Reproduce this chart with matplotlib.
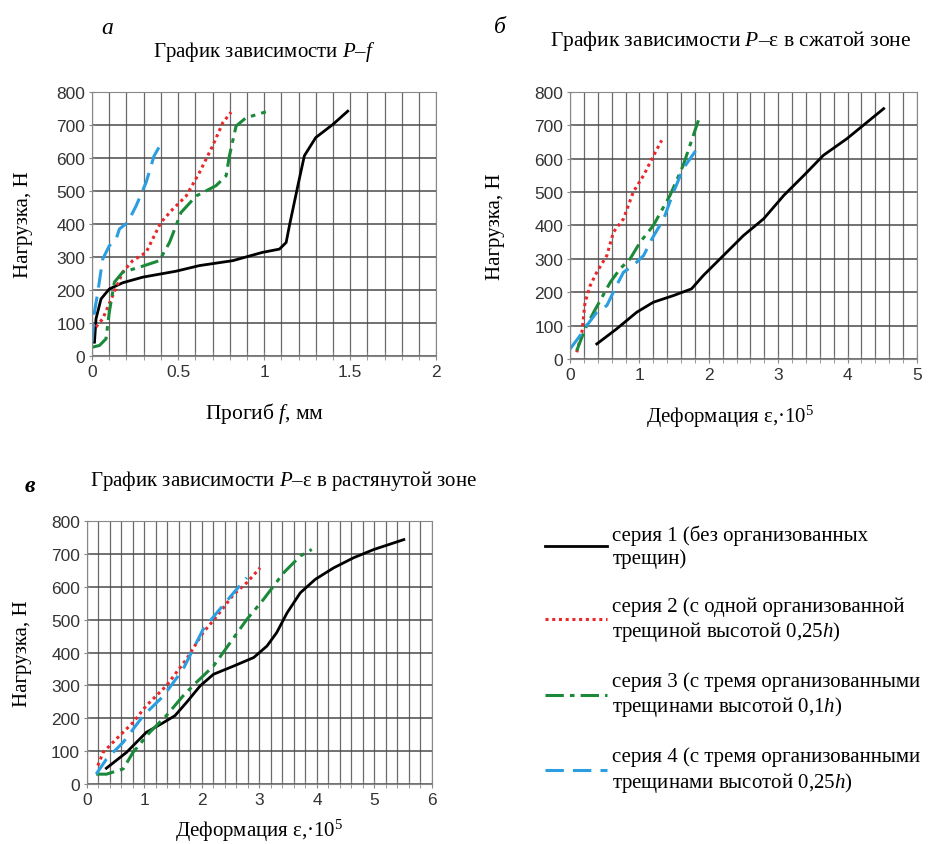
import matplotlib.pyplot as plt
import matplotlib.lines as mlines
import numpy as np

plt.rcParams['font.family'] = ['Liberation Serif', 'DejaVu Serif']
plt.rcParams['mathtext.fontset'] = 'custom'
plt.rcParams['mathtext.rm'] = 'Liberation Serif'
plt.rcParams['mathtext.it'] = 'Liberation Serif:italic'

# --- a: P-f ---
a_s1_x = [0.014, 0.023, 0.052, 0.10, 0.178, 0.295, 0.488, 0.624, 0.818, 0.99, 1.089, 1.128, 1.147, 1.196, 1.234, 1.30, 1.40, 1.486]
a_s1_y = [42, 113, 173, 203, 222, 239, 257, 274, 289, 314, 324, 344, 395, 516, 607, 662, 702, 742]
a_s2_x = [0.023, 0.062, 0.12, 0.178, 0.236, 0.314, 0.40, 0.469, 0.547, 0.624, 0.70, 0.76, 0.808]
a_s2_y = [88, 113, 183, 254, 289, 314, 405, 445, 485, 556, 636, 707, 739]
a_s3_x = [0.004, 0.043, 0.081, 0.10, 0.13, 0.178, 0.275, 0.391, 0.45, 0.488, 0.517, 0.605, 0.72, 0.779, 0.798, 0.837, 0.895, 1.01]
a_s3_y = [27, 32, 52, 133, 224, 254, 269, 289, 344, 395, 435, 485, 516, 546, 606, 697, 722, 740]
a_s4_x = [0.0, 0.014, 0.033, 0.062, 0.10, 0.14, 0.159, 0.207, 0.256, 0.314, 0.36, 0.41]
a_s4_y = [42, 133, 193, 294, 334, 355, 385, 405, 455, 526, 606, 652]

# --- b: P-eps, compressed zone ---
b_s1_x = [0.385, 0.67, 0.96, 1.2, 1.49, 1.75, 1.92, 2.21, 2.5, 2.79, 3.08, 3.37, 3.65, 3.99, 4.52]
b_s1_y = [45, 90, 140, 170, 190, 210, 250, 310, 370, 420, 490, 550, 610, 660, 750]
b_s2_x = [0.096, 0.17, 0.216, 0.29, 0.385, 0.53, 0.625, 0.77, 0.91, 1.06, 1.18, 1.32]
b_s2_y = [20, 80, 170, 220, 260, 310, 380, 420, 500, 550, 600, 655]
b_s3_x = [0.096, 0.216, 0.34, 0.58, 0.72, 0.865, 1.01, 1.2, 1.44, 1.63, 1.85]
b_s3_y = [25, 90, 140, 230, 270, 300, 350, 400, 490, 580, 715]
b_s4_x = [0.0, 0.144, 0.24, 0.385, 0.53, 0.67, 0.77, 0.91, 1.06, 1.18, 1.35, 1.49, 1.63, 1.83]
b_s4_y = [30, 70, 100, 140, 160, 220, 260, 280, 310, 360, 420, 500, 570, 630]

# --- c: P-eps, tension zone ---
c_s1_x = [0.337, 0.686, 1.03, 1.33, 1.53, 1.73, 1.97, 2.2, 2.55, 2.9, 3.13, 3.3, 3.48, 3.71, 3.97, 4.29, 4.64, 4.99, 5.51]
c_s1_y = [48, 96, 157, 187, 208, 248, 299, 334, 359, 385, 420, 461, 521, 582, 623, 658, 689, 714, 744]
c_s2_x = [0.19, 0.28, 0.51, 0.8, 1.03, 1.38, 1.73, 2.02, 2.26, 2.55, 2.78, 3.01]
c_s2_y = [56, 96, 137, 187, 238, 299, 380, 461, 511, 577, 613, 658]
c_s3_x = [0.16, 0.34, 0.63, 0.8, 1.09, 1.38, 1.67, 1.9, 2.2, 2.49, 2.78, 3.07, 3.42, 3.71, 3.91]
c_s3_y = [30, 30, 46, 96, 157, 208, 268, 309, 359, 430, 501, 562, 643, 694, 714]
c_s4_x = [0.16, 0.34, 0.63, 0.98, 1.33, 1.67, 2.02, 2.31, 2.55, 2.78]
c_s4_y = [30, 76, 127, 208, 268, 349, 471, 532, 582, 628]

labels = ['серия 1 (без организованных\nтрещин)',
          'серия 2 (с одной организованной\nтрещиной высотой 0,25$h$)',
          'серия 3 (с тремя организованными\nтрещинами высотой 0,1$h$)',
          'серия 4 (с тремя организованными\nтрещинами высотой 0,25$h$)']

styles = [dict(color='black', lw=2.0, ls='-'),
          dict(color='#e8282b', lw=2.2, ls=(0, (1, 1.2))),
          dict(color='#1a8a3a', lw=2.2, ls=(0, (6, 2, 1.5, 2))),
          dict(color='#2a9ee0', lw=2.2, ls=(0, (6, 3)))]

tick_family = ['Liberation Sans Narrow', 'Liberation Sans']


def setup(ax, xmax, xmajor, xminor, ylab_x):
    ax.set_xlim(0, xmax)
    ax.set_ylim(0, 800)
    ax.set_xticks(np.arange(0, xmax + 1e-9, xmajor))
    ax.set_xticks(np.arange(0, xmax + 1e-9, xminor), minor=True)
    ax.set_yticks(np.arange(0, 801, 100))
    ax.grid(True, which='major', axis='y', color='#4a4a4a', lw=1.1)
    ax.grid(True, which='both', axis='x', color='#6a6a6a', lw=0.9)
    for s in ax.spines.values():
        s.set_color('#888888')
    ax.tick_params(which='both', direction='inout', length=6, color='#888888', pad=3)
    ax.tick_params(axis='y', length=4)
    for lab in ax.get_xticklabels() + ax.get_yticklabels():
        lab.set_fontfamily(tick_family)
        lab.set_fontsize(12.5)
        lab.set_color('#333333')
    ax.set_ylabel('Нагрузка, Н', fontsize=15)
    ax.yaxis.set_label_coords(ylab_x, 0.5)


fig = plt.figure(figsize=(9.3, 8.45), dpi=100)

ax_a = fig.add_axes([0.099, 0.5775, 0.370, 0.3124])
setup(ax_a, 2, 0.5, 0.1, -0.172)
ax_a.set_xticklabels(['0', '0.5', '1', '1.5', '2'])
for x, y, st in zip([a_s1_x, a_s2_x, a_s3_x, a_s4_x], [a_s1_y, a_s2_y, a_s3_y, a_s4_y], styles):
    ax_a.plot(x, y, **st)
ax_a.set_xlabel('Прогиб $f$, мм', fontsize=15.5)
ax_a.xaxis.set_label_coords(0.5, -0.165)
ax_a.set_title('График зависимости $P$–$f$', fontsize=15, pad=26)

ax_b = fig.add_axes([0.613, 0.574, 0.373, 0.316])
setup(ax_b, 5, 1, 0.2, -0.188)
for x, y, st in zip([b_s1_x, b_s2_x, b_s3_x, b_s4_x], [b_s1_y, b_s2_y, b_s3_y, b_s4_y], styles):
    ax_b.plot(x, y, **st)
ax_b.set_xlabel('Деформация ε,·10$^5$', fontsize=15)
ax_b.xaxis.set_label_coords(0.46, -0.165)
ax_b.set_title('График зависимости $P$–ε в сжатой зоне', fontsize=15.5, pad=34, x=0.463)

ax_c = fig.add_axes([0.0935, 0.071, 0.371, 0.311])
setup(ax_c, 6, 1, 0.2, -0.16)
for x, y, st in zip([c_s1_x, c_s2_x, c_s3_x, c_s4_x], [c_s1_y, c_s2_y, c_s3_y, c_s4_y], styles):
    ax_c.plot(x, y, **st)
ax_c.set_xlabel('Деформация ε,·10$^5$', fontsize=15)
ax_c.xaxis.set_label_coords(0.5, -0.125)
ax_c.set_title('График зависимости $P$–ε в растянутой зоне', fontsize=15, pad=26, x=0.57)

fig.text(0.115, 0.966, 'а', fontsize=17, style='italic', ha='center', va='center')
fig.text(0.538, 0.968, 'б', fontsize=17, style='italic', ha='center', va='center')
fig.text(0.032, 0.424, 'в', fontsize=17, style='italic', weight='bold', ha='center', va='center')

handles = [mlines.Line2D([], [], **st) for st in styles]
fig.legend(handles, labels, loc='upper left', bbox_to_anchor=(0.5655, 0.40),
           frameon=False, fontsize=15, handlelength=3.0, handletextpad=0.25,
           labelspacing=1.35)

fig.savefig('out.png', dpi=100)
